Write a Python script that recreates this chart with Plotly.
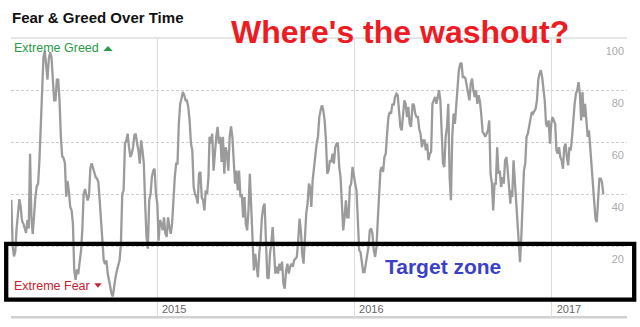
import pandas as pd
import plotly.graph_objects as go

# ---------------- data (Fear & Greed index) ----------------
segment_starts = ["2014-04-06", "2014-10-06", "2015-04-08", "2015-10-11", "2016-04-18", "2016-10-17"]
segment_ends = ["2014-10-04", "2015-04-06", "2015-10-09", "2016-04-15", "2016-10-16", "2017-04-06"]

fg_apr_oct_2014 = [37.8, 20, 16, 18, 27, 34, 38, 35, 29.6, 28.6, 27, 25, 30, 26.7, 55.5, 31, 24.6, 32.7,
                   39, 43, 44, 53, 68.5, 81, 92.7, 95, 88.7, 84, 92, 94.5, 92.5, 85, 76, 76, 84, 84, 76,
                   62, 54.5, 53.8, 52, 39, 45, 41, 35, 33.7, 28.6, 10.6, 7, 11, 9.2, 13.8, 17.8, 26,
                   39.8, 41.9, 39.1, 37.5, 39.3, 49.8, 51.8, 50, 48.7, 46.5, 45.9, 44.6, 37.5, 30, 22,
                   14.5, 13, 14.5, 9.4, 6.7]
fg_oct14_apr15 = [5.5, 1.7, 0.6, 5.5, 8, 10.6, 13.2, 14.5, 21, 40, 41.4, 59.4, 60.6, 63.2, 58, 54.2,
                  55.5, 58, 62.6, 63.2, 59.4, 56.8, 51.7, 60.6, 56.8, 51.7, 36.3, 23.5, 19, 37.6, 40,
                  46.5, 49, 49.7, 40, 36.3, 22, 30, 28.6, 26, 31, 24.7, 23.5, 31, 27.3, 24.7, 28.6,
                  38.8, 46.5, 51.7, 51.7, 67, 74.7, 76.7, 79.2, 78, 76, 76, 73.5, 68.3, 59.4, 56.8,
                  42.7, 40, 38.8, 36.3, 47.8, 48.5, 38.8, 37.6, 33.7, 41.4, 40, 46.5]
fg_apr_oct_2015 = [62, 59.4, 63.2, 49, 58, 62, 65.8, 59.4, 62, 52.3, 62, 47.8, 58, 55.5, 49, 62, 66,
                   62, 53, 44, 49, 41.4, 49, 38.8, 40, 31, 38.8, 28.6, 26, 33.7, 47.8, 33.7, 18.3,
                   10.6, 17, 13.2, 8, 17, 22, 31, 35, 36.3, 21, 8, 7.4, 17, 21, 27.3, 18.3, 9.4, 12,
                   9.4, 13.2, 10.6, 14, 5.5, 3.6, 10.6, 13.2, 9.4, 12, 13.2, 12, 14.5, 15.1, 15.8, 22,
                   30.5, 26, 17, 13.2, 23.5, 32.4, 36.3, 44]
fg_oct15_apr16 = [42.7, 35, 45.3, 50.4, 54.2, 59.4, 62, 69.6, 72.2, 74.1, 72.2, 68.3, 60.6, 47.8, 49,
                  53, 52.3, 55.5, 51.7, 58, 59.4, 59.4, 50.4, 46.5, 36.3, 26, 31, 37.6, 31, 31, 42.7,
                  44, 50.4, 46.5, 44, 41.4, 28.6, 18.3, 17.7, 14.5, 10, 10, 13.2, 15.8, 19.6, 26,
                  26.7, 24.7, 18.3, 15.8, 19.6, 30, 40, 49, 50.4, 48.5, 54.2, 55.5, 63.2, 69.6, 71.5,
                  70.9, 74.7, 74.1, 77.3, 78.6, 78, 69.6, 65.8, 64.5, 70.9, 76, 74.7, 69.6, 73.5,
                  67, 65.8]
fg_apr_oct_2016 = [74.7, 74.1, 70.9, 69.6, 69.6, 65, 63.2, 58, 60.6, 60.6, 56.8, 59.4, 53, 55.5, 56.2,
                   74.7, 76, 77.3, 74.7, 78, 79.9, 76, 62, 51.7, 50.4, 62, 65.8, 74.7, 46.5, 37.6, 62,
                   70.9, 67, 74.7, 78.6, 87.6, 90, 90.4, 85, 85, 84.4, 81.2, 79.2, 76, 82.4, 84.4,
                   79.9, 77.3, 79.9, 74.7, 78, 75.4, 70.3, 63.8, 63.2, 62, 63.2, 64.5, 68.3, 47.8, 44,
                   33.7, 44, 44, 58, 47.8, 49, 42.7, 46.5, 44, 53, 54.2, 49, 41.4, 36.3]
fg_oct16_apr17 = [41.4, 38.8, 53, 45.3, 36.3, 32.4, 23.5, 13.8, 23.5, 41.4, 49, 51.7, 62, 63.2, 65.8,
                  69.6, 71.5, 70.9, 72.2, 72.8, 76, 83.7, 86.3, 87.6, 85, 81.2, 76, 67, 65.8, 68.3,
                  59.4, 67, 69.6, 68.3, 67, 56.8, 55.5, 58, 54.2, 53, 49.7, 58, 59.4, 54.2, 51, 58,
                  56.8, 62, 69.6, 74.7, 78.6, 79.9, 83, 78.6, 68.3, 79.2, 69.6, 74.7, 68.3, 62, 64.5,
                  58, 50.4, 45.3, 38.8, 30.5, 29.2, 36.3, 45.9, 45.9, 44.6, 40]

segment_values = [fg_apr_oct_2014, fg_oct14_apr15, fg_apr_oct_2015,
                  fg_oct15_apr16, fg_apr_oct_2016, fg_oct16_apr17]

x_tick_dates = ["2015-01-01", "2016-01-01", "2017-01-01"]
x_tick_labels = ["2015", "2016", "2017"]
y_tick_values = [20, 40, 60, 80, 100]
x_range = ["2014-04-05 10:00", "2017-05-19 22:00"]

dates, values = [], []
for s, e, v in zip(segment_starts, segment_ends, segment_values):
    dates.extend(pd.date_range(s, e, periods=len(v)))
    values.extend(v)

# ---------------- layout helpers (pixel -> paper) ----------------
W, H = 640, 327
L, R, T, B = 11, 13, 38, 29


def px(x):
    return (x - L) / (W - L - R)


def py(y):
    return (H - B - y) / (H - T - B)


FONT = "Liberation Sans, Arial, Helvetica, sans-serif"

fig = go.Figure(go.Scatter(x=dates, y=values, mode="lines",
                           line=dict(color="#9b9b9b", width=2.3), hoverinfo="skip"))

fig.update_layout(
    width=W, height=H,
    margin=dict(l=L, r=R, t=T, b=B, autoexpand=False),
    paper_bgcolor="white", plot_bgcolor="white",
    showlegend=False,
    font=dict(family=FONT),
)

fig.update_xaxes(
    range=x_range, tickvals=x_tick_dates, ticktext=x_tick_labels,
    showgrid=True, gridcolor="#dddddd", gridwidth=1,
    ticks="outside", ticklen=20, tickcolor="#dddddd", tickwidth=1,
    tickfont=dict(size=11, color="#666666", family=FONT),
    ticklabelshift=17, ticklabelstandoff=-19,
    showline=False, zeroline=False,
)
fig.update_yaxes(
    range=[0, 100], tickvals=y_tick_values, side="right",
    ticklabelposition="inside", ticks="",
    tickfont=dict(size=11, color="#aaaaaa", family=FONT),
    ticklabelshift=13, ticklabelstandoff=0,
    showgrid=True, gridcolor="#cccccc", griddash="3px,2px", gridwidth=1,
    zeroline=False, showline=False,
)

shapes = [
    # solid top rule
    dict(type="line", xref="paper", yref="paper", x0=0, x1=1, y0=1, y1=1,
         line=dict(color="#cccccc", width=1), layer="below"),
    # bottom rule below the year labels
    dict(type="line", xref="paper", yref="paper", x0=0, x1=1, y0=py(317.3), y1=py(317.3),
         line=dict(color="#d0d0d0", width=2.5), layer="below"),
    # black "target zone" frame
    dict(type="rect", xref="paper", yref="paper", x0=px(6.2), x1=px(634.2),
         y0=py(299.7), y1=py(243.8), line=dict(color="black", width=4.3),
         fillcolor="rgba(0,0,0,0)", layer="above"),
    # green up triangle
    dict(type="path", xref="paper", yref="paper",
         path=f"M {px(103.3)} {py(51)} L {px(112.7)} {py(51)} L {px(108)} {py(46)} Z",
         fillcolor="#2a9a48", line=dict(width=0)),
    # red down triangle
    dict(type="path", xref="paper", yref="paper",
         path=f"M {px(94.3)} {py(283.3)} L {px(101.7)} {py(283.3)} L {px(98)} {py(287.7)} Z",
         fillcolor="#c8202e", line=dict(width=0)),
]
fig.update_layout(shapes=shapes)

annotations = [
    dict(text="<b>Fear &amp; Greed Over Time</b>", x=px(10), y=py(17.2),
         xanchor="left", yanchor="middle", font=dict(size=15, color="#111111", family=FONT)),
    dict(text="<b>Where's the washout?</b>", x=px(400), y=py(32.3),
         xanchor="center", yanchor="middle", font=dict(size=32, color="#ed1c24", family=FONT)),
    dict(text="<b>Target zone</b>", x=px(443), y=py(266),
         xanchor="center", yanchor="middle", font=dict(size=21, color="#3b40c8", family=FONT)),
    dict(text="Extreme Greed", x=px(11.5), y=py(48.5),
         xanchor="left", yanchor="middle", font=dict(size=12.5, color="#2a9a48", family=FONT)),
    dict(text="Extreme Fear", x=px(11.5), y=py(285.7),
         xanchor="left", yanchor="middle", font=dict(size=12.5, color="#c8202e", family=FONT)),
]
for a in annotations:
    a.update(xref="paper", yref="paper", showarrow=False)
fig.update_layout(annotations=annotations)

fig.write_html("out.html")
